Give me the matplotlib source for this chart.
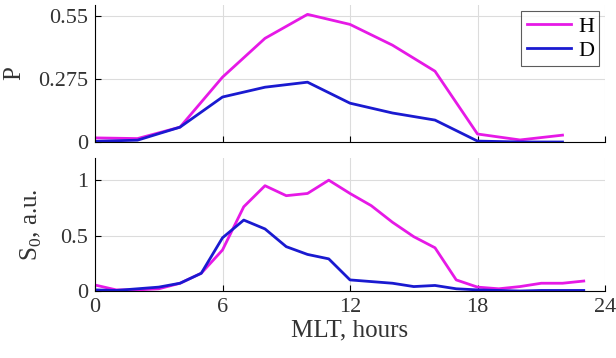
import matplotlib
matplotlib.use("Agg")
import matplotlib.pyplot as plt

plt.rcParams['font.family'] = ['Liberation Serif', 'DejaVu Serif']
plt.rcParams['mathtext.fontset'] = 'custom'
plt.rcParams['mathtext.rm'] = 'Liberation Serif'

# Top panel: P vs MLT (2-hour bins)
p_hours = [0, 2, 4, 6, 8, 10, 12, 14, 16, 18, 20, 22]
p_H = [0.018, 0.015, 0.065, 0.284, 0.454, 0.559, 0.515, 0.424, 0.31, 0.035, 0.009, 0.03]
p_D = [0.003, 0.008, 0.065, 0.197, 0.24, 0.262, 0.17, 0.127, 0.096, 0.004, 0.0, 0.0]

# Bottom panel: S0 vs MLT (hourly)
s_hours = list(range(24))
s_H = [0.054, 0.01, 0.01, 0.02, 0.07, 0.16, 0.37, 0.76, 0.95, 0.86, 0.88, 1.0,
       0.88, 0.77, 0.62, 0.49, 0.39, 0.1, 0.035, 0.02, 0.04, 0.07, 0.07, 0.09]
s_D = [0.01, 0.005, 0.02, 0.035, 0.07, 0.16, 0.48, 0.64, 0.56, 0.4, 0.33, 0.29,
       0.1, 0.085, 0.07, 0.04, 0.05, 0.02, 0.01, 0.005, 0.0, 0.005, 0.005, 0.005]

x_ticks = [0, 6, 12, 18, 24]
p_ticks = [0, 0.275, 0.55]
p_ticklabels = ['0', '0.275', '0.55']
s_ticks = [0, 0.5, 1]
s_ticklabels = ['0', '0.5', '1']

col_H = '#e619e6'
col_D = '#1a1ad0'

W, H = 616, 358
fig = plt.figure(figsize=(W / 100, H / 100), dpi=100)
L, R = 95, 605
ax1 = fig.add_axes([L / W, 1 - 142 / H, (R - L) / W, (142 - 5) / H])
ax2 = fig.add_axes([L / W, 1 - 291 / H, (R - L) / W, (291 - 158) / H])

for ax in (ax1, ax2):
    ax.set_xlim(0, 24)
    ax.set_xticks(x_ticks)
    ax.grid(True, color='#dcdcdc', linewidth=0.8)
    ax.set_axisbelow(True)
    ax.spines['top'].set_visible(False)
    ax.spines['right'].set_visible(False)
    ax.tick_params(direction='in', labelsize=16, length=4, width=0.8, pad=5,
                   labelcolor='#333333')

ax1.plot(p_hours, p_H, color=col_H, lw=2, label='H')
ax1.plot(p_hours, p_D, color=col_D, lw=2, label='D')
ax1.set_ylim(0, 0.6)
ax1.set_yticks(p_ticks)
ax1.set_yticklabels(p_ticklabels)
ax1.tick_params(labelbottom=False)
ax1.set_ylabel('P', fontsize=18, color='#333333')
ax1.yaxis.set_label_coords(-0.137, 0.5)
leg = ax1.legend(loc='upper right', fontsize=16, frameon=True, fancybox=False,
                 edgecolor='#333333', handlelength=2.0, borderpad=0.25,
                 labelspacing=0.15, handletextpad=0.3, borderaxespad=0.25)
leg.get_frame().set_linewidth(0.8)

ax2.plot(s_hours, s_H, color=col_H, lw=2)
ax2.plot(s_hours, s_D, color=col_D, lw=2)
ax2.set_ylim(0, 1.2)
ax2.set_yticks(s_ticks)
ax2.set_yticklabels(s_ticklabels)
ax2.set_ylabel('S$_0$, a.u.', fontsize=18, color='#333333')
ax2.yaxis.set_label_coords(-0.10, 0.5)
ax2.set_xlabel('MLT, hours', fontsize=18, labelpad=2, color='#333333')

fig.savefig('out.png', dpi=100)
